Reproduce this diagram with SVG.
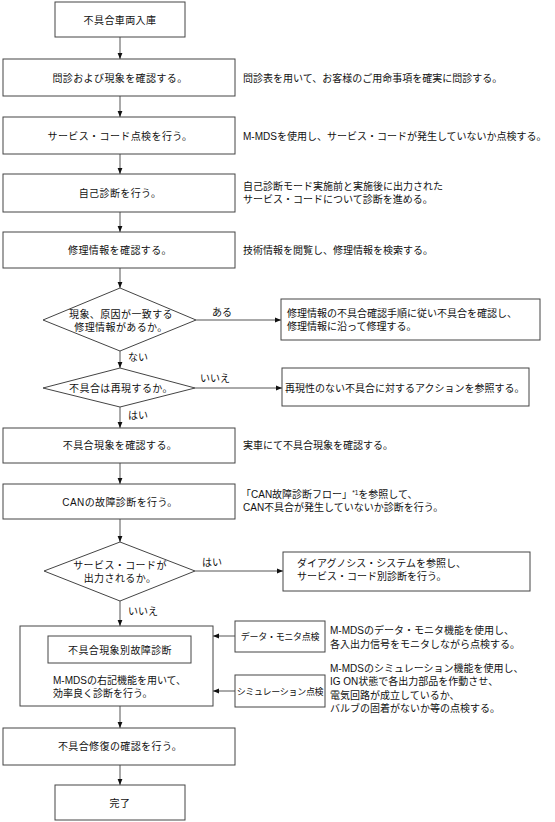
<svg xmlns="http://www.w3.org/2000/svg" width="555" height="822" viewBox="0 0 555 822">
<style>
.box{fill:#fff;stroke:#444;stroke-width:1}
.conn{stroke:#555;stroke-width:1;fill:none;marker-end:url(#ah)}
.t{font-family:"Liberation Sans","Noto Sans CJK JP",sans-serif;font-size:10px;fill:#111}
.c{text-anchor:middle;letter-spacing:0.4px}
.sm{font-size:9px;letter-spacing:-0.3px}
</style>
<defs>
<marker id="ah" markerWidth="6" markerHeight="6" refX="6" refY="3" orient="auto" markerUnits="userSpaceOnUse">
<path d="M0,0.6 L6,3 L0,5.4 z" fill="#111"/>
</marker>
</defs>
<rect width="555" height="822" fill="#fff"/>
<g id="connectors">
<line class="conn" x1="120" y1="37" x2="120" y2="59"/>
<line class="conn" x1="120" y1="96" x2="120" y2="117"/>
<line class="conn" x1="120" y1="154" x2="120" y2="174"/>
<line class="conn" x1="120" y1="212" x2="120" y2="232"/>
<line class="conn" x1="120" y1="268" x2="120" y2="288"/>
<line class="conn" x1="196" y1="320" x2="281" y2="320"/>
<line class="conn" x1="120" y1="351" x2="120" y2="368"/>
<line class="conn" x1="195" y1="388" x2="282" y2="388"/>
<line class="conn" x1="120" y1="407" x2="120" y2="428"/>
<line class="conn" x1="120" y1="463" x2="120" y2="484"/>
<line class="conn" x1="120" y1="519" x2="120" y2="542"/>
<line class="conn" x1="195" y1="571" x2="283" y2="571"/>
<line class="conn" x1="120" y1="601" x2="120" y2="626"/>
<line class="conn" x1="235" y1="636" x2="213" y2="636"/>
<line class="conn" x1="235" y1="691" x2="213" y2="691"/>
<line class="conn" x1="120" y1="706" x2="120" y2="728"/>
<line class="conn" x1="120" y1="765" x2="120" y2="785"/>
<text class="t" x="212" y="316">ある</text>
<text class="t" x="128" y="361">ない</text>
<text class="t" x="200" y="382">いいえ</text>
<text class="t" x="128" y="419">はい</text>
<text class="t" x="202" y="566">はい</text>
<text class="t" x="128" y="615">いいえ</text>
</g>
<g id="n1"><rect class="box" x="55" y="2" width="130" height="35"/><text class="t c" x="120" y="23.5">不具合車両入庫</text></g>
<g id="n2"><rect class="box" x="3" y="59" width="232" height="37"/><text class="t c" x="120" y="81.5">問診および現象を確認する。</text>
<text class="t" x="243" y="81.5">問診表を用いて、お客様のご用命事項を確実に問診する。</text></g>
<g id="n3"><rect class="box" x="3" y="117" width="232" height="37"/><text class="t c" x="120" y="139.5">サービス・コード点検を行う。</text>
<text class="t" x="243" y="139.5">M-MDSを使用し、サービス・コードが発生していないか点検する。</text></g>
<g id="n4"><rect class="box" x="3" y="174" width="232" height="38"/><text class="t c" x="120" y="196.5">自己診断を行う。</text>
<text class="t" x="243" y="189.5">自己診断モード実施前と実施後に出力された</text>
<text class="t" x="243" y="202.5">サービス・コードについて診断を進める。</text></g>
<g id="n5"><rect class="box" x="3" y="232" width="232" height="36"/><text class="t c" x="120" y="253.5">修理情報を確認する。</text>
<text class="t" x="243" y="253.5">技術情報を閲覧し、修理情報を検索する。</text></g>
<g id="d1"><polygon class="box" points="120,288 196,320 120,351 43,320"/>
<text class="t c" x="121" y="317.5">現象、原因が一致する</text>
<text class="t c" x="121" y="330.5">修理情報があるか。</text></g>
<g id="n6"><rect class="box" x="281" y="299" width="259" height="41"/>
<text class="t" x="287" y="316.5">修理情報の不具合確認手順に従い不具合を確認し、</text>
<text class="t" x="287" y="329.5">修理情報に沿って修理する。</text></g>
<g id="d2"><polygon class="box" points="120,368 195,388 120,407 43,388"/>
<text class="t c" x="121" y="391.5">不具合は再現するか。</text></g>
<g id="n7"><rect class="box" x="282" y="368" width="247" height="38"/>
<text class="t" x="285" y="391.5">再現性のない不具合に対するアクションを参照する。</text></g>
<g id="n8"><rect class="box" x="3" y="428" width="232" height="35"/><text class="t c" x="120" y="448.5">不具合現象を確認する。</text>
<text class="t" x="243" y="448.5">実車にて不具合現象を確認する。</text></g>
<g id="n9"><rect class="box" x="3" y="484" width="232" height="35"/><text class="t c" x="120" y="505.5">CANの故障診断を行う。</text>
<text class="t" x="241" y="497.5">「CAN故障診断フロー」<tspan font-size="6.5" dy="-3">*1</tspan><tspan dy="3">を参照して、</tspan></text>
<text class="t" x="243" y="510.5">CAN不具合が発生していないか診断を行う。</text></g>
<g id="d3"><polygon class="box" points="120,542 195,571 120,601 44,571"/>
<text class="t c" x="120" y="568.5">サービス・コードが</text>
<text class="t c" x="120" y="581.5">出力されるか。</text></g>
<g id="n10"><rect class="box" x="283" y="552" width="247" height="39"/>
<text class="t" x="297" y="566.5">ダイアグノシス・システムを参照し、</text>
<text class="t" x="297" y="579.5">サービス・コード別診断を行う。</text></g>
<g id="n11"><rect class="box" x="20" y="626" width="193" height="80"/>
<rect class="box" x="48" y="636" width="143" height="27"/>
<text class="t c" x="120" y="653.5">不具合現象別故障診断</text>
<text class="t" x="53" y="683.5">M-MDSの右記機能を用いて、</text>
<text class="t" x="53" y="696.5">効率良く診断を行う。</text></g>
<g id="n12"><rect class="box" x="235" y="621" width="90" height="31"/>
<text class="t c sm" x="280" y="639.5">データ・モニタ点検</text>
<text class="t" x="330" y="634">M-MDSのデータ・モニタ機能を使用し、</text>
<text class="t" x="330" y="647.5">各入出力信号をモニタしながら点検する。</text></g>
<g id="n13"><rect class="box" x="235" y="675" width="90" height="32"/>
<text class="t c sm" x="280" y="694.5">シミュレーション点検</text>
<text class="t" x="330" y="672">M-MDSのシミュレーション機能を使用し、</text>
<text class="t" x="330" y="685">IG ON状態で各出力部品を作動させ、</text>
<text class="t" x="330" y="698.5">電気回路が成立しているか、</text>
<text class="t" x="330" y="712">バルブの固着がないか等の点検する。</text></g>
<g id="n14"><rect class="box" x="3" y="728" width="232" height="37"/><text class="t c" x="120" y="750">不具合修復の確認を行う。</text></g>
<g id="n15"><rect class="box" x="55" y="785" width="130" height="35"/><text class="t c" x="120" y="806.5">完了</text></g>
</svg>
